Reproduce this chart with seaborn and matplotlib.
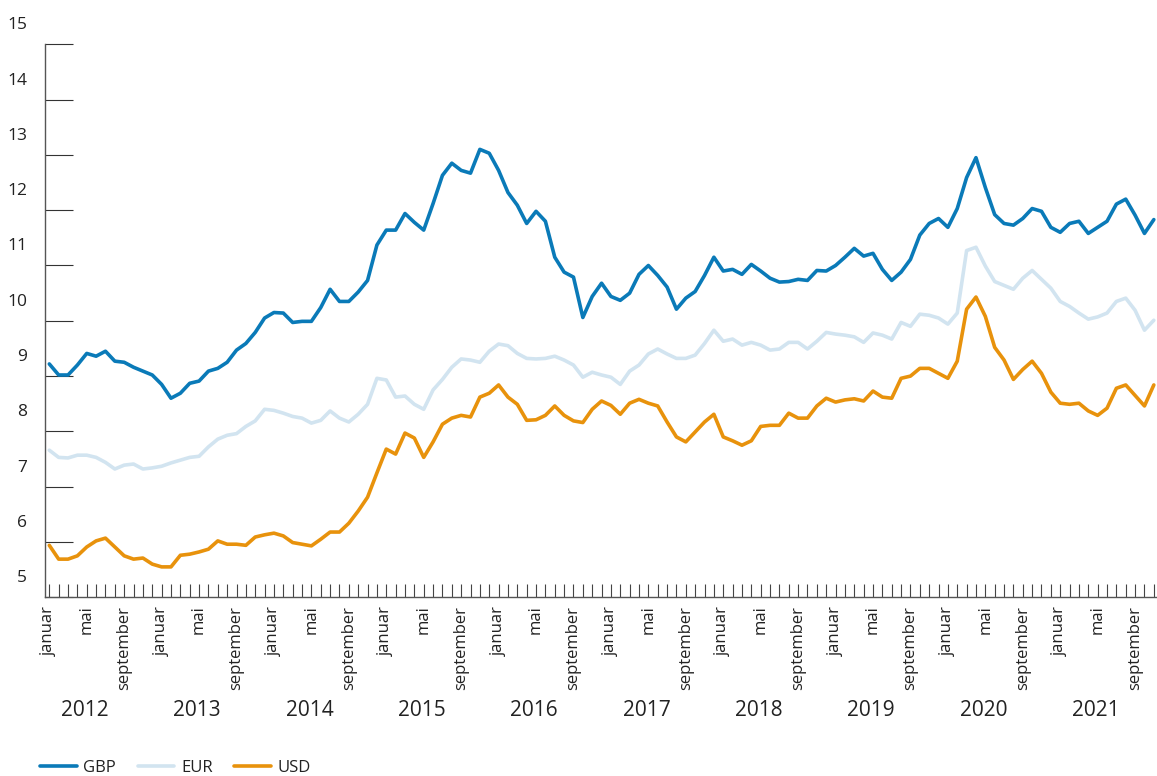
import matplotlib
matplotlib.use("Agg")

import numpy as np
import pandas as pd
import matplotlib.pyplot as plt
import matplotlib.transforms as mtransforms
import seaborn as sns

# monthly values, januar 2012 - november 2021
gbp = [9.22, 9.02, 9.02, 9.20, 9.41, 9.36, 9.45, 9.27, 9.25, 9.16, 9.09, 9.02,
       8.85, 8.60, 8.69, 8.87, 8.91, 9.09, 9.14, 9.25, 9.47, 9.59, 9.79, 10.05,
       10.15, 10.14, 9.97, 9.99, 9.99, 10.24, 10.57, 10.35, 10.35, 10.52, 10.73, 11.37,
       11.64, 11.64, 11.94, 11.78, 11.64, 12.12, 12.63, 12.85, 12.72, 12.67, 13.10, 13.03,
       12.72, 12.32, 12.09, 11.76, 11.98, 11.80, 11.15, 10.88, 10.79, 10.06, 10.44, 10.68,
       10.44, 10.37, 10.50, 10.84, 11.00, 10.82, 10.61, 10.21, 10.41, 10.53, 10.82, 11.15,
       10.90, 10.93, 10.84, 11.02, 10.90, 10.77, 10.70, 10.71, 10.75, 10.73, 10.91, 10.90,
       11.00, 11.15, 11.31, 11.17, 11.22, 10.93, 10.73, 10.88, 11.11, 11.55, 11.76, 11.85,
       11.69, 12.03, 12.59, 12.95, 12.41, 11.92, 11.76, 11.73, 11.85, 12.03, 11.98, 11.69,
       11.60, 11.76, 11.80, 11.58, 11.69, 11.80, 12.11, 12.20, 11.91, 11.58, 11.83]

eur = [7.66, 7.53, 7.52, 7.57, 7.57, 7.53, 7.44, 7.32, 7.39, 7.41, 7.32, 7.34,
       7.37, 7.43, 7.48, 7.53, 7.55, 7.72, 7.86, 7.93, 7.96, 8.09, 8.19, 8.40,
       8.38, 8.33, 8.27, 8.24, 8.15, 8.20, 8.37, 8.24, 8.17, 8.31, 8.49, 8.96,
       8.93, 8.62, 8.64, 8.49, 8.40, 8.75, 8.94, 9.16, 9.31, 9.29, 9.25, 9.45,
       9.58, 9.55, 9.41, 9.32, 9.31, 9.32, 9.36, 9.29, 9.20, 8.98, 9.07, 9.02,
       8.98, 8.85, 9.09, 9.20, 9.40, 9.49, 9.40, 9.32, 9.32, 9.38, 9.59, 9.83,
       9.63, 9.67, 9.56, 9.61, 9.56, 9.47, 9.49, 9.61, 9.61, 9.49, 9.63, 9.79,
       9.76, 9.74, 9.71, 9.61, 9.78, 9.74, 9.67, 9.97, 9.90, 10.12, 10.10, 10.05,
       9.94, 10.14, 11.27, 11.33, 10.99, 10.71, 10.64, 10.57, 10.77, 10.91, 10.75, 10.59,
       10.35, 10.26, 10.14, 10.03, 10.07, 10.14, 10.35, 10.41, 10.19, 9.83, 10.01]

usd = [5.94, 5.69, 5.69, 5.75, 5.91, 6.02, 6.07, 5.91, 5.75, 5.69, 5.71, 5.60,
       5.55, 5.55, 5.76, 5.78, 5.82, 5.87, 6.02, 5.96, 5.96, 5.94, 6.09, 6.13,
       6.16, 6.11, 5.99, 5.96, 5.93, 6.05, 6.18, 6.18, 6.34, 6.56, 6.81, 7.25,
       7.68, 7.59, 7.97, 7.88, 7.53, 7.81, 8.13, 8.24, 8.29, 8.26, 8.62, 8.69,
       8.84, 8.62, 8.49, 8.20, 8.21, 8.29, 8.46, 8.29, 8.19, 8.16, 8.40, 8.55,
       8.47, 8.31, 8.51, 8.58, 8.51, 8.46, 8.17, 7.90, 7.81, 7.99, 8.17, 8.31,
       7.90, 7.83, 7.75, 7.83, 8.09, 8.11, 8.11, 8.33, 8.24, 8.24, 8.46, 8.60,
       8.53, 8.57, 8.59, 8.55, 8.73, 8.62, 8.60, 8.96, 9.00, 9.14, 9.14, 9.05,
       8.96, 9.27, 10.21, 10.43, 10.08, 9.52, 9.29, 8.94, 9.12, 9.27, 9.05, 8.71,
       8.51, 8.49, 8.51, 8.37, 8.29, 8.42, 8.78, 8.84, 8.65, 8.46, 8.84]

years = [2012, 2013, 2014, 2015, 2016, 2017, 2018, 2019, 2020, 2021]
month_names = {0: "januar", 4: "mai", 8: "september"}
colors = {"GBP": "#0a7ab8", "EUR": "#d2e4f0", "USD": "#e8920c"}

n = len(gbp)
df = pd.DataFrame({
    "month": np.tile(np.arange(n), 3),
    "value": gbp + eur + usd,
    "currency": ["GBP"] * n + ["EUR"] * n + ["USD"] * n,
})

sns.set_theme(style="white")
plt.rcParams["font.family"] = ["Open Sans", "DejaVu Sans"]

W, H = 1157, 776
fig = plt.figure(figsize=(W / 100, H / 100), dpi=100)
ax = fig.add_axes([45 / W, 1 - 597.3 / H, (W - 45) / W, (597.3 - 44.3) / H])

sns.lineplot(data=df, x="month", y="value", hue="currency",
             hue_order=["GBP", "EUR", "USD"], palette=colors,
             linewidth=2.6, ax=ax)

ax.set_xlim(-0.46, 118.34)
ax.set_ylim(5, 15)
ax.set_xlabel("")
ax.set_ylabel("")

for s in ["top", "right"]:
    ax.spines[s].set_visible(False)
for s in ["left", "bottom"]:
    ax.spines[s].set_color("#555555")
    ax.spines[s].set_linewidth(1.0)

# y axis: inward ticks, labels sitting above each tick
ax.set_yticks(range(5, 16))
ax.set_yticklabels([str(v) for v in range(5, 16)])
ax.tick_params(axis="y", direction="in", length=20, width=0.8, color="#333333",
               pad=13, labelsize=12.5, labelcolor="#222222", left=True)
offset = mtransforms.ScaledTranslation(0, 0.21, fig.dpi_scale_trans)
for lbl in ax.get_yticklabels():
    lbl.set_transform(lbl.get_transform() + offset)

# x axis: a tick every month, names for januar/mai/september
ax.set_xticks(range(n))
ax.set_xticklabels([month_names.get(i % 12, "") for i in range(n)],
                   rotation=90, va="top", ha="center")
ax.tick_params(axis="x", direction="in", length=9.5, width=0.8, color="#444444",
               pad=6, labelsize=12, labelcolor="#222222", bottom=True)

for k, yr in enumerate(years):
    ax.text(12 * k + 3.8, -0.204, str(yr), transform=ax.get_xaxis_transform(),
            ha="center", va="center", fontsize=15, color="#222222")

ax.legend(loc="center left", bbox_to_anchor=(40 / W, 1 - 768 / H),
          bbox_transform=fig.transFigure, ncol=3, frameon=False,
          fontsize=12, handlelength=2.2, handletextpad=0.4,
          columnspacing=1.3, borderpad=0, borderaxespad=0,
          labelcolor="#222222")

fig.savefig("out.png", dpi=100)
plt.close(fig)
